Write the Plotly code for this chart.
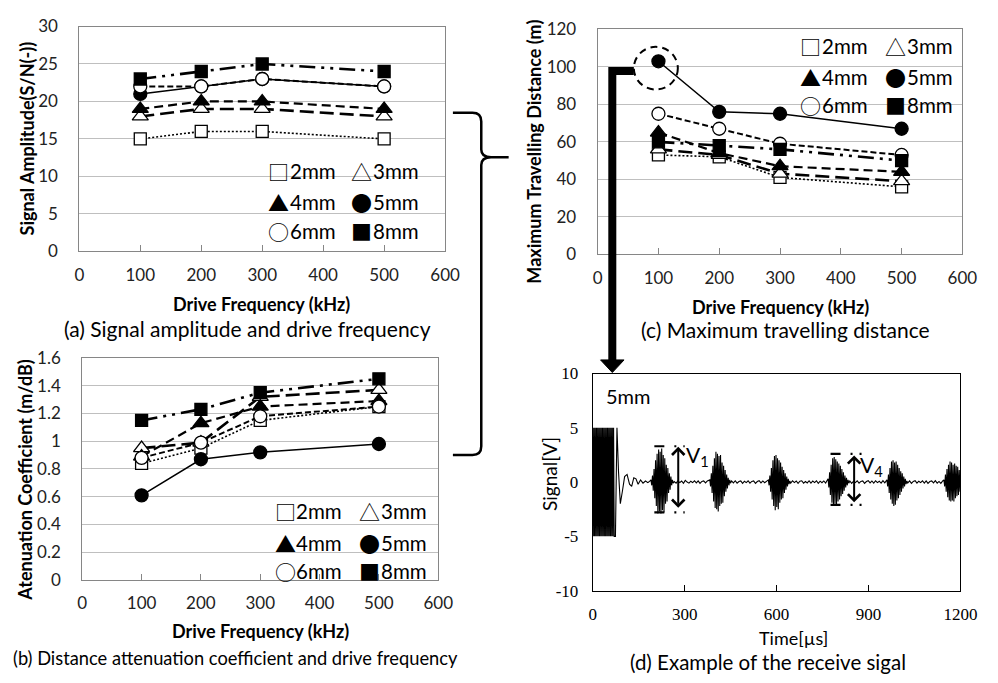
import plotly.graph_objects as go

W, H = 998, 683

# ---------------- data ----------------
freq = [100, 200, 300, 500]
sizes = ["2mm", "3mm", "4mm", "5mm", "6mm", "8mm"]

snr_2mm = [15, 16, 16, 15]
snr_3mm = [18, 19, 19, 18]
snr_4mm = [19, 20, 20, 19]
snr_5mm = [21, 22, 23, 22]
snr_6mm = [22, 22, 23, 22]
snr_8mm = [23, 24, 25, 24]

att_2mm = [0.84, 0.95, 1.15, 1.25]
att_3mm = [0.95, 0.99, 1.32, 1.37]
att_4mm = [0.89, 1.13, 1.25, 1.29]
att_5mm = [0.61, 0.87, 0.92, 0.98]
att_6mm = [0.88, 0.99, 1.18, 1.25]
att_8mm = [1.15, 1.23, 1.35, 1.45]

dist_2mm = [53, 52, 41, 36]
dist_3mm = [56, 53, 43, 39]
dist_4mm = [65, 54, 47, 44]
dist_5mm = [103, 76, 75, 67]
dist_6mm = [75, 67, 59, 53]
dist_8mm = [60, 58, 56, 50]

sig_ticks = [-10, -5, 0, 5, 10]
sig_ticktext = ["-10", "-5", "0", "5", "10"]

# received signal (5mm): excitation, ring-down, echoes and baseline
exc_start, exc_step = 0, 2
exc_v = [5, -5, 5, -5, 5, -5, 5, -5, 5, -5, 5, -5, 5, -5, 5, -5, 5, -5,
         5, -5, 5, -5, 5, -5, 5, -5, 5, -5, 5, -5, 5, -5, 5, -5, 5, -5]
ring_t = [74, 79, 84, 90, 97, 104, 112, 120, 127, 134, 141, 148, 156, 164, 172, 180, 186]
ring_v = [-5, 5, 1.0, -2.0, -0.8, 0.5, 0.7, -0.2, -0.4, 0.4, 0.3, -0.2, 0.2, -0.1, 0.1, -0.05, 0.08]

b1 = (190, 2.5, [0.2, -0.3, 0.6, -0.8, 1.2, -1.5, 2.0, -2.2, 2.6, -2.9, 3.0, -2.7, 2.8, -2.9, 3.1,
                 -2.6, 2.5, -2.8, 2.2, -2.0, 1.6, -1.8, 1.3, -1.0, 0.8, -0.7, 0.5, -0.3, 0.2, -0.1])
g1 = (266, 6, [0.05, -0.1, 0.12, -0.05, 0.1, -0.12, 0.15, 0.0, -0.1, 0.08, -0.05, 0.12, -0.08,
               0.1, -0.12, 0.06, 0.1, -0.08, 0.1])
b2 = (382, 2.5, [0.2, -0.4, 0.8, -1.0, 1.5, -1.8, 2.2, -2.4, 2.8, -2.5, 2.6, -2.7, 2.4, -2.2,
                 2.5, -2.0, 1.8, -1.9, 1.5, -1.3, 1.1, -0.9, 0.7, -0.6, 0.4, -0.3, 0.2, -0.1])
g2 = (453, 6, [0.1, -0.08, 0.12, -0.1, 0.05, 0.1, -0.12, 0.08, -0.05, 0.12, -0.1, 0.06, 0.1,
               -0.12, 0.05, 0.12, -0.08, 0.1, -0.06, 0.08])
b3 = (573, 2.5, [0.2, -0.3, 0.6, -0.9, 1.3, -1.6, 2.0, -2.2, 2.4, -2.6, 2.5, -2.3, 2.2, -2.5,
                 2.0, -1.9, 1.8, -1.6, 1.4, -1.5, 1.1, -1.0, 0.8, -0.7, 0.5, -0.4, 0.3, -0.2, 0.1])
g3 = (646, 6, [-0.1, 0.12, -0.05, 0.1, -0.12, 0.08, 0.12, -0.1, 0.05, -0.08, 0.12, -0.1, 0.1,
               -0.05, 0.12, -0.12, 0.08, -0.06, 0.1, -0.1])
b4 = (768, 2.5, [0.3, -0.5, 0.9, -1.2, 1.6, -1.9, 2.2, -2.1, 2.3, -2.0, 2.1, -2.1, 1.9, -1.8,
                 1.7, -1.6, 1.5, -1.3, 1.2, -1.1, 0.9, -0.8, 0.6, -0.5, 0.4, -0.3, 0.2, -0.1])
g4 = (839, 6, [0.1, -0.12, 0.08, -0.05, 0.12, -0.1, 0.06, 0.1, -0.12, 0.05, 0.12, -0.08, 0.1,
               -0.1, 0.12, -0.05, 0.08, -0.1, 0.12, -0.08])
b5 = (960, 2.5, [0.2, -0.4, 0.7, -1.0, 1.3, -1.6, 1.9, -2.0, 2.0, -2.2, 1.8, -2.1, 1.9, -1.7,
                 1.6, -1.5, 1.3, -1.2, 1.0, -0.9, 0.8, -0.6, 0.5, -0.4, 0.3, -0.2, 0.1])
g5 = (1028, 6, [-0.08, 0.1, -0.12, 0.06, 0.12, -0.1, 0.08, -0.05, 0.12, -0.1, 0.1, -0.12, 0.05,
                0.1, -0.08, 0.12, -0.1, 0.06, -0.12, 0.1])
b6 = (1146, 2.5, [0.2, -0.4, 0.7, -0.9, 1.2, -1.4, 1.6, -1.7, 1.9, -1.8, 1.8, -1.7, 1.6, -1.8,
                  1.7, -1.5, 1.5, -1.3, 1.4, -1.2, 1.1, -0.9])

# ---------------- helpers ----------------
def X(p):
    return p / W

def Y(p):
    return 1 - p / H

def P(x, y):
    return f"{X(x):.5f},{Y(y):.5f}"

sig_t, sig_v = [], []
for i, v in enumerate(exc_v):
    sig_t.append(exc_start + i * exc_step)
    sig_v.append(v)
sig_t += ring_t
sig_v += ring_v
for (s, st, vals) in [b1, g1, b2, g2, b3, g3, b4, g4, b5, g5, b6]:
    for i, v in enumerate(vals):
        sig_t.append(s + i * st)
        sig_v.append(v)

FONT = "Lato"
CJK = "Noto Sans CJK JP"

styles = {
    "2mm": dict(symbol="square", fill="white", dash="2px,2px", lw=1.6, ms=12),
    "3mm": dict(symbol="triangle-up", fill="white", dash="14px,6px", lw=2.6, ms=14),
    "4mm": dict(symbol="triangle-up", fill="black", dash="9px,5px", lw=2.2, ms=14),
    "5mm": dict(symbol="circle", fill="black", dash="solid", lw=1.5, ms=13),
    "6mm": dict(symbol="circle", fill="white", dash="6px,3px", lw=2.0, ms=13),
    "8mm": dict(symbol="square", fill="black", dash="16px,6px,3px,6px,3px,6px", lw=2.6, ms=12),
}

panel_data = [
    ("x", "y", [snr_2mm, snr_3mm, snr_4mm, snr_5mm, snr_6mm, snr_8mm]),
    ("x2", "y2", [att_2mm, att_3mm, att_4mm, att_5mm, att_6mm, att_8mm]),
    ("x3", "y3", [dist_2mm, dist_3mm, dist_4mm, dist_5mm, dist_6mm, dist_8mm]),
]

fig = go.Figure()
for xa, ya, series in panel_data:
    for name, vals in zip(sizes, series):
        s = styles[name]
        fig.add_trace(go.Scatter(
            x=freq, y=vals, xaxis=xa, yaxis=ya, mode="lines+markers", name=name,
            showlegend=False, cliponaxis=False,
            line=dict(color="black", width=s["lw"], dash=s["dash"]),
            marker=dict(symbol=s["symbol"], size=s["ms"], color=s["fill"],
                        line=dict(color="black", width=1.3)),
        ))

fig.add_trace(go.Scatter(x=sig_t, y=sig_v, xaxis="x4", yaxis="y4", mode="lines",
                         showlegend=False, line=dict(color="black", width=1.1)))

grid = "#BFBFBF"
border = "#868686"
tickfont = dict(family=FONT, size=17, color="#222")

def xax(dom, anchor):
    return dict(domain=dom, anchor=anchor, range=[0, 600], dtick=100, tick0=0,
                showgrid=False, zeroline=False, showline=True, mirror=True,
                linecolor=border, linewidth=1, ticks="inside", ticklen=6,
                tickcolor=border, tickfont=tickfont, ticklabelstandoff=8)

def yax(dom, anchor, rng, dt):
    return dict(domain=dom, anchor=anchor, range=rng, dtick=dt, tick0=0,
                showgrid=True, gridcolor=grid, gridwidth=1, zeroline=False,
                showline=True, mirror=True, linecolor=border, linewidth=1,
                ticks="", tickfont=tickfont, ticklabelstandoff=17)

fig.update_layout(
    width=W, height=H, autosize=False,
    margin=dict(l=0, r=0, t=0, b=0),
    paper_bgcolor="white", plot_bgcolor="white",
    xaxis=xax([X(76), X(450)], "y"),
    yaxis=yax([Y(248), Y(16)], "x", [0, 30], 5),
    xaxis2=xax([X(79), X(443)], "y2"),
    yaxis2=yax([Y(587), Y(358)], "x2", [0, 1.6], 0.2),
    xaxis3=xax([X(606), X(979)], "y3"),
    yaxis3=yax([Y(251), Y(19)], "x3", [0, 120], 20),
    xaxis4=dict(domain=[X(601), X(977)], anchor="y4", range=[0, 1200], dtick=300, tick0=0,
                showgrid=False, zeroline=False, showline=True, mirror=True,
                linecolor="black", linewidth=1, ticks="inside", ticklen=6,
                tickcolor="black", ticklabelstandoff=8,
                tickfont=dict(family="Liberation Serif", size=17, color="black")),
    yaxis4=dict(domain=[Y(598), Y(374)], anchor="x4", range=[-10, 10],
                tickmode="array", tickvals=sig_ticks, ticktext=sig_ticktext,
                showgrid=False, zeroline=False, showline=True, mirror=True,
                linecolor="black", linewidth=1, ticks="", ticklabelstandoff=10,
                tickfont=dict(family="Liberation Serif", size=17, color="black")),
)

ann = []

def text(t, x, y, size=18, bold=False, angle=0, xanchor="center", family=FONT):
    ann.append(dict(text=f"<b>{t}</b>" if bold else t, x=X(x), y=Y(y), xref="paper", yref="paper",
                    showarrow=False, textangle=angle, xanchor=xanchor, yanchor="middle",
                    font=dict(family=family, size=size, color="black")))

# axis titles
text("Drive Frequency (kHz)", 262, 302, 18, True)
text("Signal Amplitude(S/N(-))", 22, 132, 18, True, -90)
text("Drive Frequency (kHz)", 261, 640, 18, True)
text("Atenuation Coefficient (m/dB)", 21, 484, 18, True, -90)
text("Drive Frequency (kHz)", 793, 305, 18, True)
text("Maximum Travelling Distance (m)", 540, 145, 18, True, -90)
text("Time[µs]", 806, 647, 18)
text("Signal[V]", 557, 478, 19, False, -90)

# captions
text("(a) Signal amplitude and drive frequency", 248, 328, 21)
text("(b) Distance attenuation coefficient and drive frequency", 236, 668, 18.3)
text("(c) Maximum travelling distance", 798, 329, 21)
text("(d) Example of the receive sigal", 780, 672, 20.5)

# legends (symbol + label text boxes)
glyphs = {"2mm": "□", "3mm": "△", "4mm": "▲", "5mm": "●", "6mm": "○", "8mm": "■"}
legend_pos = [
    ([270, 355], [165, 197, 227]),
    ([277, 363], [516, 549, 578]),
    ([814, 901], [36, 68, 97]),
]
for cols, rows in legend_pos:
    for k, name in enumerate(sizes):
        cx = cols[k % 2]
        ry = rows[k // 2]
        text(glyphs[name], cx - 3, ry, 21, False, 0, "left", CJK)
        text(name, cx + 19, ry, 20.5, False, 0, "left")

# panel (d) labels
text("5mm", 612, 397, 20, False, 0, "left")
text("V<sub>1</sub>", 694, 459, 21, False, 0, "left")
text("V<sub>4</sub>", 872, 469, 21, False, 0, "left")

# double-headed arrows V1 / V4
for (t, top, bot) in [(279, 3.25, -2.5), (853, 2.45, -2.0)]:
    ann.append(dict(x=t, y=top, ax=t, ay=bot, xref="x4", yref="y4", axref="x4", ayref="y4",
                    text="", showarrow=True, arrowside="end+start", arrowhead=4,
                    startarrowhead=4, arrowsize=1.2, startarrowsize=1.2, arrowwidth=2,
                    arrowcolor="black"))

fig.update_layout(annotations=ann)

shapes = []
# peak level marks
for (t0, t1, lev) in [(201, 300, 3.3), (201, 300, -2.8), (776, 881, 2.6), (776, 881, -2.1)]:
    shapes.append(dict(type="line", xref="x4", yref="y4", x0=t0, x1=t1, y0=lev, y1=lev,
                       line=dict(color="black", width=2.2, dash="10px,10px,2px,7px,2px,40px")))

# brace between (a)/(b) and (c)
brace = ("M " + P(458, 105) + " L " + P(478, 105) + " Q " + P(487, 105) + " " + P(487, 114) +
         " L " + P(487, 143) + " Q " + P(487, 151) + " " + P(497, 151) + " L " + P(515, 151) +
         " M " + P(497, 151) + " Q " + P(487, 151) + " " + P(487, 159) + " L " + P(487, 449) +
         " Q " + P(487, 458) + " " + P(478, 458) + " L " + P(458, 458))
shapes.append(dict(type="path", xref="paper", yref="paper", path=brace,
                   line=dict(color="black", width=2.5)))

# dashed circle around the 5mm / 100 kHz point
shapes.append(dict(type="circle", xref="paper", yref="paper",
                   x0=X(643), x1=X(688), y0=Y(81), y1=Y(37),
                   line=dict(color="black", width=2, dash="7px,5px")))

# thick L-shaped arrow to panel (d)
shapes.append(dict(type="path", xref="paper", yref="paper",
                   path="M " + P(643, 62) + " L " + P(621, 62) + " L " + P(621, 362),
                   line=dict(color="black", width=8), layer="above"))
shapes.append(dict(type="path", xref="paper", yref="paper",
                   path="M " + P(609, 360) + " L " + P(633, 360) + " L " + P(621, 373) + " Z",
                   fillcolor="black", line=dict(color="black", width=1), layer="above"))

fig.update_layout(shapes=shapes)

fig.write_html("out.html")
